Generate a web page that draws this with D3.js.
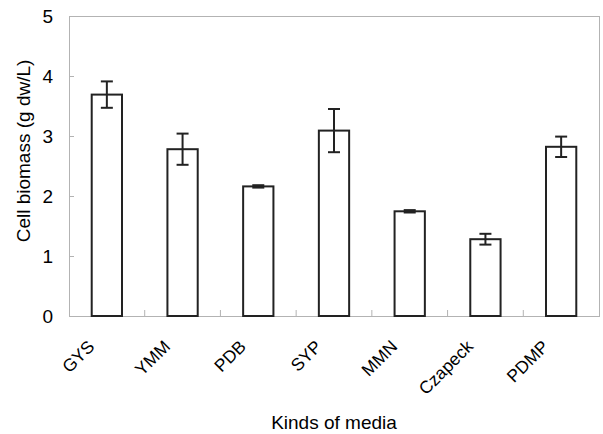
<!DOCTYPE html>
<html lang="en">
<head>
   <title>Cell biomass</title>
   <style type="text/css">
       body{
           margin: 0;
           font-family: "Liberation Sans", Arial, sans-serif;
       }
       .frame{
           fill: none;
           stroke: #b3b3b3;
           stroke-width: 1px;
       }
       .tick line{
           stroke: #b3b3b3;
       }
       .bar{
           fill: #fff;
           stroke: #222;
           stroke-width: 2px;
       }
       .err{
           stroke: #222;
           stroke-width: 2px;
       }
       .axis-title{
           font-size: 19px;
           text-anchor: middle;
       }
   </style>
</head>
<body>
<script src="https://d3js.org/d3.v7.min.js" charset="utf-8"></script>
<script>
    var media = ['GYS', 'YMM', 'PDB', 'SYP', 'MMN', 'Czapeck', 'PDMP']
    var biomass = [3.69, 2.78, 2.16, 3.09, 1.745, 1.28, 2.82]
    var errors = [0.22, 0.26, 0.02, 0.36, 0.02, 0.09, 0.17]
    var yTicks = [0, 1, 2, 3, 4, 5]

    var margin = {left: 69, right: 4, top: 16, bottom: 118}
    var width = 603, height = 434
    var w = width - margin.left - margin.right
    var h = height - margin.top - margin.bottom

    var svg = d3.select('body')
        .append('svg')
            .attr('width', width)
            .attr('height', height)

    var g = svg.append('g')
        .attr('transform', 'translate(' + margin.left + ',' + margin.top + ')')

    var x = d3.scaleBand().domain(media).range([0, w]).paddingInner(0.6).paddingOuter(0.3)
    var xb = d3.scaleBand().domain(media).range([0, w])
    var y = d3.scaleLinear().domain([0, 5]).range([h, 0])

    // y axis, ticks point inward
    var yAxis = g.append('g')
        .call(d3.axisLeft(y).tickValues(yTicks).tickFormat(d3.format('d')).tickSize(-5).tickPadding(16))
    yAxis.select('.domain').remove()
    yAxis.selectAll('text')
        .attr('font-size', 19)
        .attr('font-family', '"Liberation Sans", Arial, sans-serif')
        .attr('fill', '#000')

    // category boundary ticks along the bottom
    g.append('g').selectAll('line')
        .data(media.slice(1))
        .enter().append('line')
            .attr('class', 'frame')
            .attr('x1', function(d) {return xb(d);})
            .attr('x2', function(d) {return xb(d);})
            .attr('y1', h)
            .attr('y2', h - 6)

    g.append('rect')
        .attr('class', 'frame')
        .attr('x', 0.5)
        .attr('y', 0.5)
        .attr('width', w)
        .attr('height', h)

    g.selectAll('.bar')
        .data(biomass)
        .enter().append('rect')
            .attr('class', 'bar')
            .attr('x', function(d, i) {return x(media[i]);})
            .attr('y', function(d) {return y(d);})
            .attr('width', x.bandwidth())
            .attr('height', function(d) {return h - y(d);})

    var errG = g.append('g').attr('class', 'err')
    biomass.forEach(function(d, i) {
        var cx = x(media[i]) + x.bandwidth() / 2
        var top = y(d + errors[i]), bot = y(d - errors[i])
        errG.append('line').attr('x1', cx).attr('x2', cx).attr('y1', top).attr('y2', bot)
        errG.append('line').attr('x1', cx - 6).attr('x2', cx + 6).attr('y1', top).attr('y2', top)
        errG.append('line').attr('x1', cx - 6).attr('x2', cx + 6).attr('y1', bot).attr('y2', bot)
    })

    // rotated category labels
    g.append('g').selectAll('text')
        .data(media)
        .enter().append('text')
            .attr('font-size', 17.5)
            .attr('text-anchor', 'end')
            .attr('transform', function(d) {
                return 'translate(' + (xb(d) + xb.bandwidth() / 2 - 20) + ',' + (h + 23) + ') rotate(-45)';
            })
            .attr('dy', '0.7em')
            .text(function(d) {return d;})

    svg.append('text')
        .attr('class', 'axis-title')
        .attr('x', margin.left + w / 2)
        .attr('y', 429)
        .text('Kinds of media')

    svg.append('text')
        .attr('class', 'axis-title')
        .attr('transform', 'translate(30,' + (margin.top + 135) + ') rotate(-90)')
        .text('Cell biomass (g dw/L)')
</script>
</body>
</html>
